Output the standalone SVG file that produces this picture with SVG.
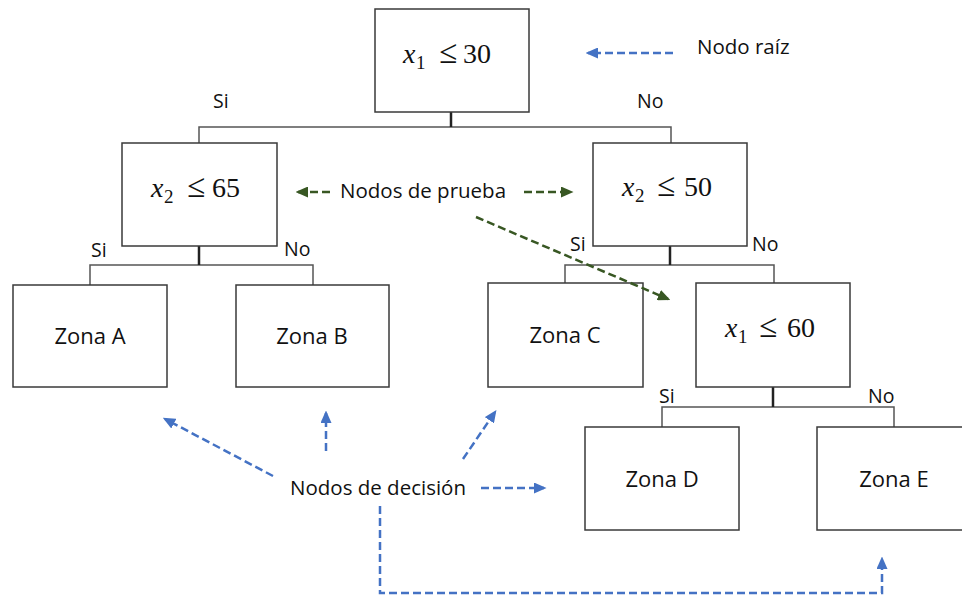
<svg xmlns="http://www.w3.org/2000/svg" width="962" height="600" viewBox="0 0 962 600">
<style>
.box{fill:#fff;stroke:#3a3a3a;stroke-width:1.5}
.tree{fill:none;stroke:#555;stroke-width:1.5}
.stem{fill:none;stroke:#222;stroke-width:2.5}
.lbl{font-family:"Open Sans","Liberation Sans",sans-serif;font-size:22px;fill:#111}
.sm{font-family:"Open Sans","Liberation Sans",sans-serif;font-size:19.5px;fill:#111}
.note{font-family:"Open Sans","Liberation Sans",sans-serif;font-size:20.5px;fill:#111}
.m{font-family:"Liberation Serif","DejaVu Serif",serif;font-size:28px;fill:#111}
.mi{font-style:italic}
.sub{font-size:19px}
.le{font-size:33px}
.blue{fill:none;stroke:#4472C4;stroke-width:2.5;stroke-dasharray:8 4}
.green{fill:none;stroke:#385723;stroke-width:2.5;stroke-dasharray:8 4}
</style>
<defs>
<marker id="ab" markerWidth="5" markerHeight="4.4" refX="4" refY="2.2" orient="auto" markerUnits="strokeWidth"><path d="M0,0 L5,2.2 L0,4.4 z" fill="#4472C4"/></marker>
<marker id="ag" markerWidth="5" markerHeight="4.4" refX="4" refY="2.2" orient="auto" markerUnits="strokeWidth"><path d="M0,0 L5,2.2 L0,4.4 z" fill="#385723"/></marker>
</defs>

<g id="connectors">
<path class="tree" d="M199,143 V127 H671 V143"/>
<path class="stem" d="M451,112 V127"/>
<path class="tree" d="M90,285 V265 H313 V285"/>
<path class="stem" d="M199,246 V265"/>
<path class="tree" d="M565,283 V265 H774 V283"/>
<path class="stem" d="M670,246 V265"/>
<path class="tree" d="M662,427 V407 H894 V427"/>
<path class="stem" d="M773,387 V407"/>
<g class="sm">
<text x="213" y="108">Si</text>
<text x="637" y="108">No</text>
<text x="91" y="257">Si</text>
<text x="284" y="256">No</text>
<text x="570" y="251">Si</text>
<text x="752" y="251">No</text>
<text x="659" y="403">Si</text>
<text x="868" y="403">No</text>
</g>
</g>

<g id="root">
<rect class="box" x="375" y="9" width="154" height="103"/>
<text class="m" x="403" y="63"><tspan class="mi">x</tspan><tspan class="sub" x="416" y="69">1</tspan><tspan class="le" x="439" y="63">≤</tspan><tspan x="463" y="63">30</tspan></text>
</g>
<g id="test-left">
<rect class="box" x="122" y="143" width="155" height="103"/>
<text class="m" x="151" y="197"><tspan class="mi">x</tspan><tspan class="sub" x="164" y="203">2</tspan><tspan class="le" x="187" y="197">≤</tspan><tspan x="212" y="197">65</tspan></text>
</g>
<g id="test-right">
<rect class="box" x="593" y="143" width="154" height="103"/>
<text class="m" x="622" y="196"><tspan class="mi">x</tspan><tspan class="sub" x="635" y="202">2</tspan><tspan class="le" x="657" y="196">≤</tspan><tspan x="684" y="196">50</tspan></text>
</g>
<g id="test-x1-60">
<rect class="box" x="696" y="283" width="154" height="104"/>
<text class="m" x="725" y="337"><tspan class="mi">x</tspan><tspan class="sub" x="738" y="343">1</tspan><tspan class="le" x="759" y="337">≤</tspan><tspan x="787" y="337">60</tspan></text>
</g>
<g id="zona-a">
<rect class="box" x="13" y="285" width="154" height="102"/>
<text class="lbl" x="90" y="344" text-anchor="middle">Zona A</text>
</g>
<g id="zona-b">
<rect class="box" x="236" y="285" width="153" height="102"/>
<text class="lbl" x="312" y="344" text-anchor="middle">Zona B</text>
</g>
<g id="zona-c">
<rect class="box" x="488" y="283" width="155" height="104"/>
<text class="lbl" x="565" y="343" text-anchor="middle">Zona C</text>
</g>
<g id="zona-d">
<rect class="box" x="585" y="427" width="154" height="103"/>
<text class="lbl" x="662" y="487" text-anchor="middle">Zona D</text>
</g>
<g id="zona-e">
<rect class="box" x="817" y="427" width="154" height="103"/>
<text class="lbl" x="894" y="487" text-anchor="middle">Zona E</text>
</g>

<g id="annotations">
<text class="note" x="697" y="54">Nodo raíz</text>
<path class="blue" d="M673,53 H588" marker-end="url(#ab)"/>
<text class="note" x="340" y="198">Nodos de prueba</text>
<path class="green" d="M330,192 H298" marker-end="url(#ag)"/>
<path class="green" d="M524,192 H571" marker-end="url(#ag)"/>
<path class="green" d="M476,217 L668,299" marker-end="url(#ag)"/>
<text class="note" x="290" y="495">Nodos de decisión</text>
<path class="blue" d="M273,476 L165,419" marker-end="url(#ab)"/>
<path class="blue" d="M326,451 V413" marker-end="url(#ab)"/>
<path class="blue" d="M463,459 L495,412" marker-end="url(#ab)"/>
<path class="blue" d="M481,488 H544" marker-end="url(#ab)"/>
<path class="blue" d="M380,506 V593 H882 V559" marker-end="url(#ab)"/>
</g>
</svg>
